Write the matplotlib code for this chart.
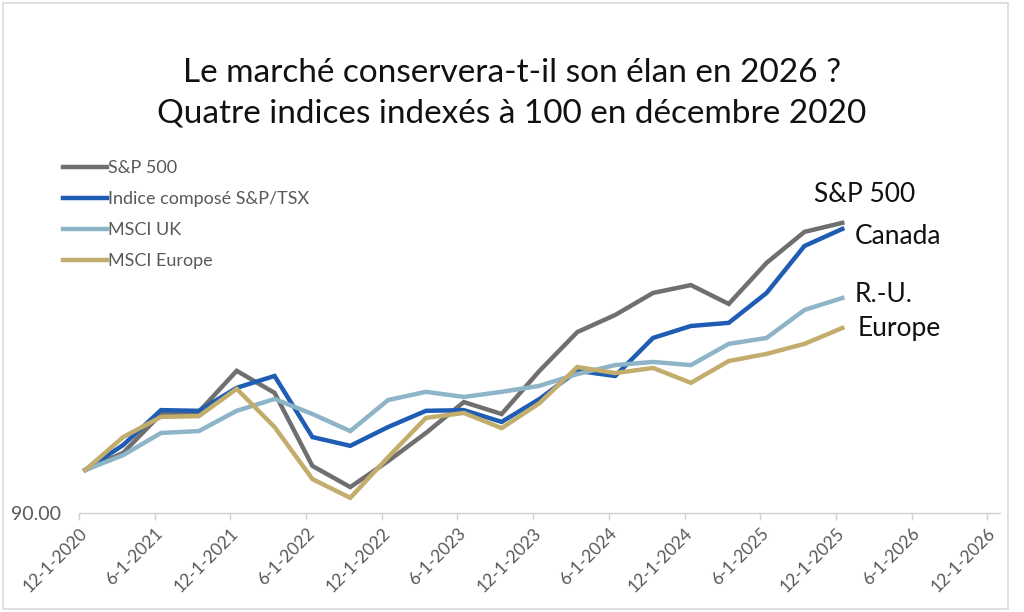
import matplotlib
matplotlib.use("Agg")
import matplotlib.pyplot as plt
from matplotlib.patches import Rectangle
import matplotlib.ticker as mticker

plt.rcParams['font.family'] = ['Lato', 'DejaVu Sans']

# Quarterly observation months (month index from Dec 2020)
dates = ["2020-12", "2021-03", "2021-06", "2021-09", "2021-12", "2022-03", "2022-06",
         "2022-09", "2022-12", "2023-03", "2023-06", "2023-09", "2023-12", "2024-03",
         "2024-06", "2024-09", "2024-12", "2025-03", "2025-06", "2025-09", "2025-12"]

sp500 = [100.0, 104.3, 114.7, 115.3, 127.5, 120.8, 101.0, 95.9, 102.2, 109.5, 118.1,
         114.7, 127.5, 140.2, 146.2, 154.3, 157.3, 150.2, 166.1, 179.2, 183.2]
tsx = [100.0, 106.3, 115.8, 115.6, 122.3, 125.9, 108.4, 106.1, 111.1, 115.6, 115.8,
       112.5, 119.0, 127.5, 125.9, 138.2, 142.3, 143.4, 154.3, 173.1, 180.5]
msci_uk = [100.0, 103.7, 109.5, 110.0, 115.6, 119.0, 114.7, 110.0, 118.7, 121.1, 119.6,
           121.1, 122.9, 126.5, 129.3, 130.3, 129.3, 136.2, 138.2, 148.0, 152.4]
msci_europe = [100.0, 108.4, 113.9, 114.1, 122.0, 111.1, 97.8, 93.4, 103.2, 113.6, 115.0,
               110.8, 117.8, 128.7, 126.8, 128.4, 123.8, 130.6, 132.9, 136.2, 141.6]

series_names = ["S&P 500", "Indice composé S&P/TSX", "MSCI UK", "MSCI Europe"]
end_labels = ["S&P 500", "Canada", "R.-U.", "Europe"]
colors = ["#6f6f6f", "#1f5db4", "#8db4c7", "#c2ad6c"]

tick_labels = ["12-1-2020", "6-1-2021", "12-1-2021", "6-1-2022", "12-1-2022", "6-1-2023",
               "12-1-2023", "6-1-2024", "12-1-2024", "6-1-2025", "12-1-2025", "6-1-2026",
               "12-1-2026"]

title = "Le marché conservera-t-il son élan en 2026 ?\nQuatre indices indexés à 100 en décembre 2020"


def month_index(s):
    y, m = s.split("-")
    return (int(y) - 2020) * 12 + int(m) - 12


x = [month_index(d) + 0.5 for d in dates]  # Excel date axis: points centred in month slot

fig = plt.figure(figsize=(10.24, 6.12), dpi=100)
fig.patch.set_facecolor("white")
ax = fig.add_axes([79 / 1024, 1 - 513 / 612, (1000 - 79) / 1024, (513 - 150) / 612])

all_series = [sp500, tsx, msci_uk, msci_europe]
lines = []
for vals, name, c in zip(all_series, series_names, colors):
    ln, = ax.plot(x, vals, color=c, lw=3.2, label=name, solid_joinstyle="miter")
    lines.append(ln)

ax.set_yscale("log")
ax.set_ylim(90, 219)
ax.set_xlim(0, 73)
ax.yaxis.set_major_locator(mticker.FixedLocator([90]))
ax.yaxis.set_minor_locator(mticker.NullLocator())
ax.yaxis.set_major_formatter(mticker.FixedFormatter(["90.00"]))
ax.tick_params(axis="y", length=0, pad=13, labelsize=14, labelcolor="#595959")

ax.set_xticks(range(0, 73, 6))
ax.set_xticklabels(tick_labels, rotation=45, ha="right", rotation_mode="anchor")
ax.tick_params(axis="x", length=5, width=1, color="#d0d0d0", labelsize=12.5,
               labelcolor="#595959", pad=4)

for s in ["top", "right", "left"]:
    ax.spines[s].set_visible(False)
ax.spines["bottom"].set_color("#d0d0d0")
ax.spines["bottom"].set_linewidth(1)

leg = fig.legend(handles=lines, loc="upper left", bbox_to_anchor=(56 / 1024, 1 - 153 / 612),
                 frameon=False, fontsize=13, handlelength=2.45, handletextpad=0.05,
                 labelspacing=0.83, borderaxespad=0)
for t in leg.get_texts():
    t.set_color("#595959")

offsets = [(-28, 28), (12, -8), (12, 3), (15, 0)]
for vals, lab, off in zip(all_series, end_labels, offsets):
    ax.annotate(lab, xy=(x[-1], vals[-1]), xytext=off, textcoords="offset pixels",
                ha="left", va="center", fontsize=19, color="#111111")

fig.text(0.5, 1 - 93 / 612, title, ha="center", va="center", fontsize=24,
         linespacing=1.42, color="#111111")

fig.add_artist(Rectangle((3 / 1024, 3 / 612), 1005 / 1024, 606 / 612,
                         transform=fig.transFigure, fill=False, edgecolor="#d9d9d9", lw=1.2))

fig.savefig("out.png", dpi=100)
